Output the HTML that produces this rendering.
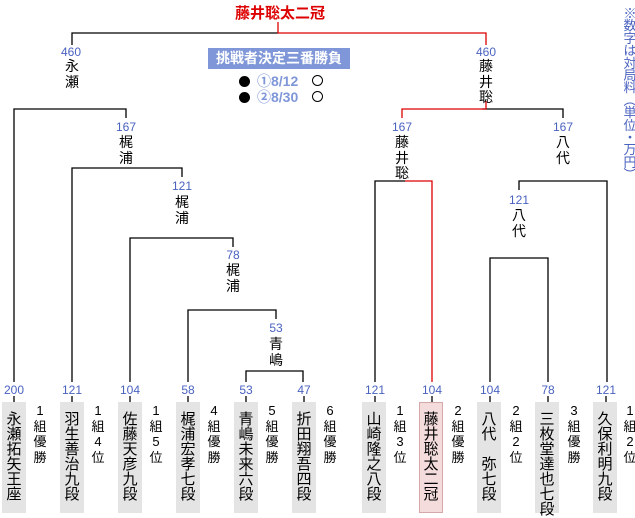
<!DOCTYPE html>
<html><head><meta charset="utf-8"><style>
body{margin:0;width:635px;height:515px;background:#fff;position:relative;overflow:hidden;font-family:"Liberation Sans","Noto Sans CJK JP",sans-serif}
.a{position:absolute}
.n{position:absolute;color:#4a62c0;font-size:12px;width:40px;text-align:center;line-height:12px}
.v{position:absolute;width:20px;text-align:center;font-size:14px;line-height:15.5px;color:#000}
.box{position:absolute;top:402px;width:24px;height:111px;background:#e4e4e4;text-align:center;font-size:15px;line-height:15px;padding-top:10px;box-sizing:border-box}
.g{position:absolute;top:403px;width:16px;text-align:center;font-size:13px;line-height:15.5px}
.f{position:absolute;width:11px;height:11px;border-radius:50%;background:#000}
.o{position:absolute;width:9px;height:9px;border-radius:50%;border:1.5px solid #000}
.d{position:absolute;color:#7f97d8;font-weight:bold;font-size:14px;line-height:16px}
</style></head><body>
<svg class="a" style="left:0;top:0" width="635" height="515">
<g stroke="#000" stroke-width="1.3" fill="none">
<polyline points="72,45 72,33 278,33"/>
<polyline points="14,382 14,109 126,109 126,118"/>
<polyline points="72,382 72,168 182,168 182,177"/>
<polyline points="130,382 130,238 233,238 233,247"/>
<polyline points="188,382 188,310 276,310 276,319"/>
<polyline points="246,382 246,371 303,371 303,382"/>
<polyline points="482,109 563,109 563,118"/>
<polyline points="375,382 375,181 405,181"/>
<polyline points="519,190 519,181 607,181 607,382"/>
<polyline points="490,382 490,258 548,258 548,382"/>
</g>
<g stroke="#d00" stroke-width="1.3" fill="none">
<polyline points="278,22 278,33 486,33 486,45"/>
<polyline points="486,101 486,109 402,109 402,118"/>
<polyline points="405,181 432,181 432,382"/>
</g>
<g stroke="#000" stroke-width="1.3">
<line x1="14" y1="396" x2="14" y2="402"/><line x1="72" y1="396" x2="72" y2="402"/><line x1="130" y1="396" x2="130" y2="402"/><line x1="188" y1="396" x2="188" y2="402"/><line x1="246" y1="396" x2="246" y2="402"/><line x1="304" y1="396" x2="304" y2="402"/><line x1="375" y1="396" x2="375" y2="402"/><line x1="432" y1="396" x2="432" y2="402"/><line x1="490" y1="396" x2="490" y2="402"/><line x1="548" y1="396" x2="548" y2="402"/><line x1="606" y1="396" x2="606" y2="402"/>
</g>
</svg>
<div class="a" style="left:230px;top:5px;width:100px;text-align:center;color:#d00;font-weight:bold;font-size:15px;line-height:18px">藤井聡太二冠</div>
<div class="a" style="left:208px;top:48px;width:142px;height:21px;background:#7f97d8;color:#fff;font-weight:bold;font-size:14px;line-height:21px;text-align:center">挑戦者決定三番勝負</div>
<div class="f" style="left:239px;top:76px"></div><div class="d" style="left:257px;top:73px">①8/12</div><div class="o" style="left:312px;top:75px"></div>
<div class="f" style="left:239px;top:92px"></div><div class="d" style="left:257px;top:89px">②8/30</div><div class="o" style="left:312px;top:91px"></div>
<div class="a" style="left:622px;top:8px;width:16px;color:#4a62c0;font-size:13px;line-height:12.4px;text-align:center">※<br>数<br>字<br>は<br>対<br>局<br>料<br>︵<br>単<br>位<br>・<br>万<br>円<br>︶</div>

<div class="n" style="left:51px;top:46px">460</div><div class="v" style="left:62px;top:59px">永<br>瀬</div>
<div class="n" style="left:466px;top:46px">460</div><div class="v" style="left:476px;top:59px">藤<br>井<br>聡</div>
<div class="n" style="left:106px;top:121px">167</div><div class="v" style="left:116px;top:135px">梶<br>浦</div>
<div class="n" style="left:162px;top:180px">121</div><div class="v" style="left:172px;top:195px">梶<br>浦</div>
<div class="n" style="left:213px;top:249px">78</div><div class="v" style="left:223px;top:263px">梶<br>浦</div>
<div class="n" style="left:256px;top:322px">53</div><div class="v" style="left:266px;top:337px">青<br>嶋</div>
<div class="n" style="left:382px;top:121px">167</div><div class="v" style="left:392px;top:135px">藤<br>井<br>聡</div>
<div class="n" style="left:543px;top:121px">167</div><div class="v" style="left:553px;top:135px">八<br>代</div>
<div class="n" style="left:499px;top:194px">121</div><div class="v" style="left:509px;top:208px">八<br>代</div>

<div class="n" style="left:-6px;top:384px">200</div>
<div class="n" style="left:52px;top:384px">121</div>
<div class="n" style="left:110px;top:384px">104</div>
<div class="n" style="left:168px;top:384px">58</div>
<div class="n" style="left:226px;top:384px">53</div>
<div class="n" style="left:284px;top:384px">47</div>
<div class="n" style="left:355px;top:384px">121</div>
<div class="n" style="left:412px;top:384px">104</div>
<div class="n" style="left:470px;top:384px">104</div>
<div class="n" style="left:528px;top:384px">78</div>
<div class="n" style="left:586px;top:384px">121</div>

<div class="box" style="left:2px">永<br>瀬<br>拓<br>矢<br>王<br>座</div>
<div class="box" style="left:60px">羽<br>生<br>善<br>治<br>九<br>段</div>
<div class="box" style="left:118px">佐<br>藤<br>天<br>彦<br>九<br>段</div>
<div class="box" style="left:176px">梶<br>浦<br>宏<br>孝<br>七<br>段</div>
<div class="box" style="left:234px">青<br>嶋<br>未<br>来<br>六<br>段</div>
<div class="box" style="left:292px">折<br>田<br>翔<br>吾<br>四<br>段</div>
<div class="box" style="left:362px">山<br>崎<br>隆<br>之<br>八<br>段</div>
<div class="box" style="left:419px;background:#f4dcdc;border:1px solid #d4a8a8;padding-top:9px">藤<br>井<br>聡<br>太<br>二<br>冠</div>
<div class="box" style="left:477px">八<br>代<br>&nbsp;<br>弥<br>七<br>段</div>
<div class="box" style="left:535px">三<br>枚<br>堂<br>達<br>也<br>七<br>段</div>
<div class="box" style="left:593px">久<br>保<br>利<br>明<br>九<br>段</div>

<div class="g" style="left:32px">1<br>組<br>優<br>勝</div>
<div class="g" style="left:90px">1<br>組<br>4<br>位</div>
<div class="g" style="left:148px">1<br>組<br>5<br>位</div>
<div class="g" style="left:206px">4<br>組<br>優<br>勝</div>
<div class="g" style="left:264px">5<br>組<br>優<br>勝</div>
<div class="g" style="left:322px">6<br>組<br>優<br>勝</div>
<div class="g" style="left:392px">1<br>組<br>3<br>位</div>
<div class="g" style="left:450px">2<br>組<br>優<br>勝</div>
<div class="g" style="left:508px">2<br>組<br>2<br>位</div>
<div class="g" style="left:566px">3<br>組<br>優<br>勝</div>
<div class="g" style="left:622px">1<br>組<br>2<br>位</div>
</body></html>
